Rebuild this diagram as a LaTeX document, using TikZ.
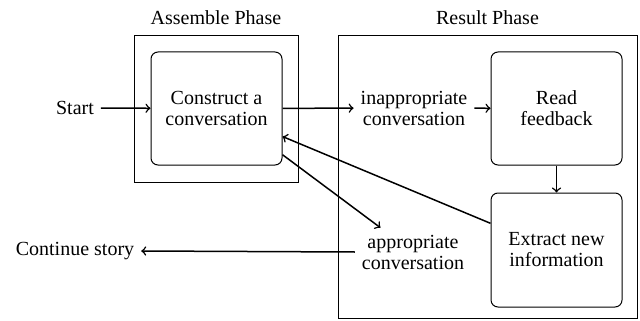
\documentclass[tikz,border=0pt]{standalone}
\usepackage{fontspec}
\setmainfont{Liberation Serif}
\begin{document}
\begin{tikzpicture}[x=0.5pt,y=-0.5pt,
  every node/.style={font=\fontsize{10}{10.5}\selectfont, align=center},
  stepbox/.style={draw, rounded corners=3.5pt, minimum width=65.5pt, minimum height=56.5pt, line width=0.5pt},
  phasebox/.style={draw, line width=0.5pt},
  conn/.style={->, line width=0.75pt}]
\useasboundingbox (0,0) rectangle (640,320);
% phase frames
\draw[phasebox] (134,36) rectangle (298,182);
\draw[phasebox] (338,36) -- (338,318) -- (637,318) -- (637,36) -- cycle;
\node (assemble) at (216,18) {Assemble Phase};
\node (result) at (487.5,18) {Result Phase};
% nodes
\node (start) at (75,108) {Start};
\node[stepbox] (construct) at (216.5,108.5) {Construct a\\conversation};
\node (inapp) at (414,108) {inappropriate\\conversation};
\node[stepbox] (read) at (556.5,108.5) {Read\\feedback};
\node[stepbox, minimum height=57pt] (extract) at (556.5,250) {Extract new\\information};
\node (app) at (413,252) {appropriate\\conversation};
\node (cont) at (75,251) {Continue story};
% connectors
\draw[conn] (start) -- (construct);
\draw[conn] (construct) -- (inapp);
\draw[conn] (inapp) -- (read);
\draw[conn] (read) -- (extract);
\draw[conn] (construct.-35) -- (app);
\draw[conn] (extract.158) -- (construct.-23);
\draw[conn] (app.west) -- (cont.east);
\end{tikzpicture}
\end{document}
